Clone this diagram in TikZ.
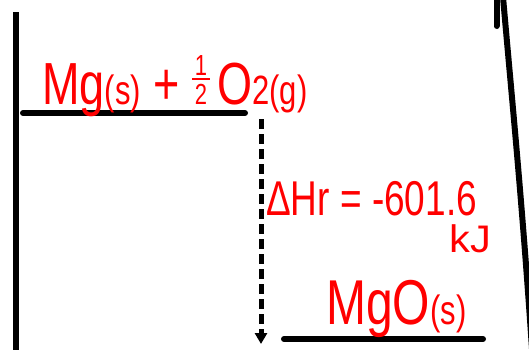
\documentclass[tikz,border=0pt]{standalone}
\usepackage{fontspec}
\setmainfont{Liberation Sans}
\usetikzlibrary{arrows.meta}
\definecolor{ink}{RGB}{255,0,0}
\newcommand\smallsub[1]{{\fontsize{31}{31}\selectfont #1}}
\newcommand\tall[1]{\scalebox{1}[1.32]{#1}}
\newcommand\halffrac{{\fontsize{22}{22}\selectfont\vbox{\hbox to 0.8em{\hss 1\hss}\kern2.5pt\hrule height 1.6pt\kern2.5pt\hbox to 0.8em{\hss 2\hss}}}}
\begin{document}
\begin{tikzpicture}[x=1pt,y=-1pt,
  level/.style={line width=6pt,line cap=round},
  axisline/.style={line width=6pt},
  redtext/.style={text=ink,inner sep=0pt,anchor=base west},
  pathway/.style={line width=5pt,dash pattern=on 10pt off 5pt,-{Triangle[width=12pt,length=11pt]}}]
\useasboundingbox (0,0) rectangle (529,349);
\fill[white] (0,0) rectangle (529,349);
% axis
\draw[axisline] (15.5,12) -- (15.5,352);
% right side strokes
\draw[line width=6pt,line cap=round] (496.5,-3) -- (496.5,26);
\draw[line width=6pt] (503,-3) .. controls (512,100) and (522,200) .. (532,349);
% energy levels
\coordinate (t1) at (23,113);
\coordinate (t2) at (245,113);
\coordinate (b1) at (284,339);
\coordinate (b2) at (483,339);
\draw[level] (t1) -- (t2);
\draw[level] (b1) -- (b2);
% arrow
\coordinate (astart) at (261,119);
\coordinate (aend) at (261,344);
\draw[pathway] (astart) -- (aend);
% labels
\node[redtext,font=\fontsize{45}{45}\selectfont] (react) at (42,104)
  {\tall{Mg\smallsub{(s)} + \halffrac\,O\smallsub{2(g)}}};
\node[redtext,font=\fontsize{37}{37}\selectfont] (dh) at (266,215) {\tall{ΔHr = -601.6}};
\node[redtext,font=\fontsize{32}{32}\selectfont] (kj) at (449,252) {\scalebox{1.3}[1.2]{kJ}};
\node[redtext,font=\fontsize{48}{48}\selectfont] (prod) at (326,324) {\tall{MgO\smallsub{(s)}}};
\end{tikzpicture}
\end{document}
